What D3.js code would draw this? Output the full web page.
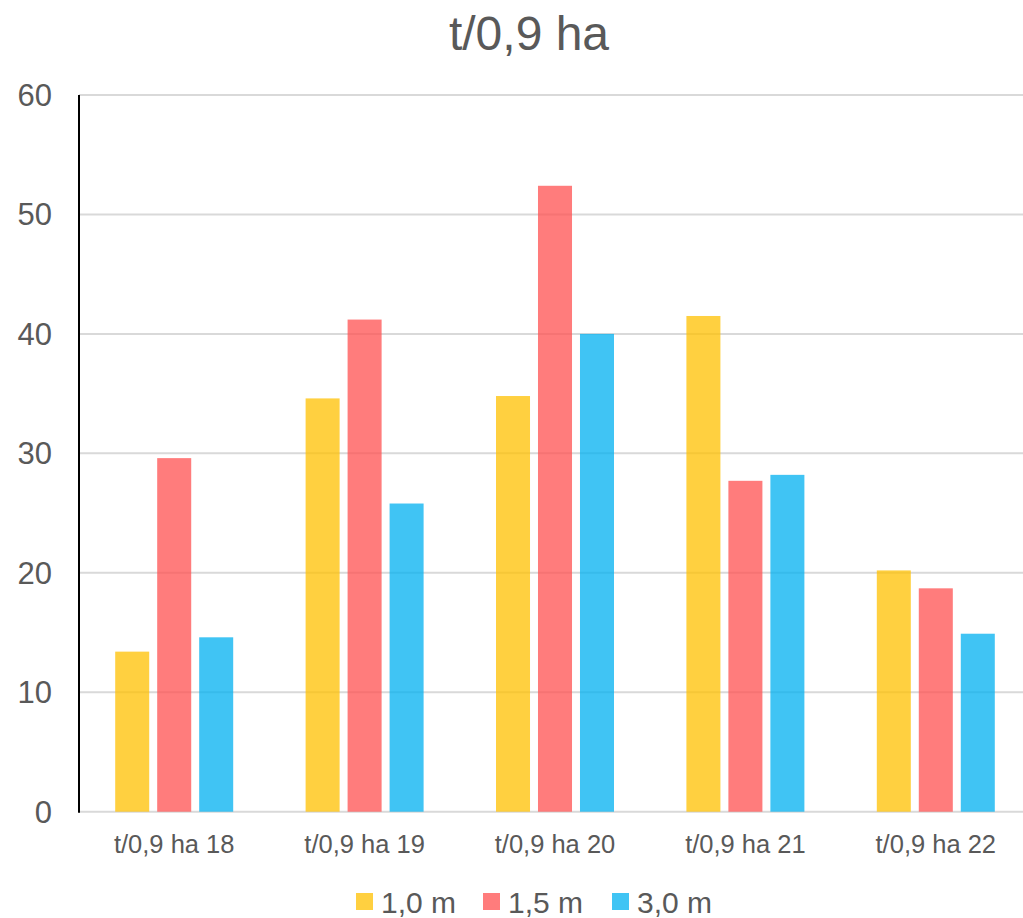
<!DOCTYPE html>
<html>
<head>
<meta charset="utf-8">
<script src="https://cdn.jsdelivr.net/npm/d3@7"></script>
<style>
  body { margin: 0; background: #fff; }
  svg { display: block; font-family: "Liberation Sans", Arial, sans-serif; }
</style>
</head>
<body>
<svg id="chart"></svg>
<script>
const width = 1023;
const height = 918;

const categories = ['t/0,9 ha 18', 't/0,9 ha 19', 't/0,9 ha 20', 't/0,9 ha 21', 't/0,9 ha 22'];
const seriesNames = ['1,0 m', '1,5 m', '3,0 m'];
const values10 = [13.4, 34.6, 34.8, 41.5, 20.2];
const values15 = [29.6, 41.2, 52.4, 27.7, 18.7];
const values30 = [14.6, 25.8, 40.0, 28.2, 14.9];
const yTicks = [0, 10, 20, 30, 40, 50, 60];

const colors = ['#FFC000', '#FF5050', '#00B0F0'];
const seriesValues = [values10, values15, values30];

const data = categories.map((c, i) => ({
    cat: c,
    vals: seriesNames.map((s, j) => ({ key: s, idx: j, value: seriesValues[j][i] }))
}));

const svg = d3.select('#chart')
    .attr('width', width)
    .attr('height', height);

const x0 = d3.scaleBand().domain(categories).range([79, 1031]);
const x1 = d3.scaleBand().domain(seriesNames).range([0, 118]).paddingInner(0.19);
const y = d3.scaleLinear().domain([0, 60]).range([811.7, 95]);

// title
svg.append('text')
    .attr('x', 529)
    .attr('y', 50)
    .attr('text-anchor', 'middle')
    .style('font-size', '48px')
    .style('fill', '#595959')
    .text('t/0,9 ha');

// gridlines
svg.append('g')
    .selectAll('line')
    .data(yTicks)
    .enter()
    .append('line')
    .attr('x1', 79)
    .attr('x2', width)
    .attr('y1', d => y(d))
    .attr('y2', d => y(d))
    .attr('stroke', '#d9d9d9')
    .attr('stroke-width', 2);

// y tick labels
svg.append('g')
    .selectAll('text')
    .data(yTicks)
    .enter()
    .append('text')
    .attr('x', 52)
    .attr('y', d => y(d))
    .attr('dy', '0.35em')
    .attr('text-anchor', 'end')
    .style('font-size', '31px')
    .style('fill', '#595959')
    .text(d => d);

// bars
const groups = svg.append('g')
    .selectAll('g')
    .data(data)
    .enter()
    .append('g')
    .attr('transform', d => `translate(${x0(d.cat) + (x0.bandwidth() - 118) / 2},0)`);

groups.selectAll('rect')
    .data(d => d.vals)
    .enter()
    .append('rect')
    .attr('x', d => x1(d.key))
    .attr('y', d => y(d.value))
    .attr('width', x1.bandwidth())
    .attr('height', d => y(0) - y(d.value))
    .attr('fill', d => colors[d.idx])
    .attr('fill-opacity', 0.75);

// y axis line
svg.append('line')
    .attr('x1', 79).attr('x2', 79)
    .attr('y1', y(60)).attr('y2', y(0) + 1)
    .attr('stroke', '#000')
    .attr('stroke-width', 2);

// category labels
svg.append('g')
    .selectAll('text')
    .data(categories)
    .enter()
    .append('text')
    .attr('x', d => x0(d) + x0.bandwidth() / 2)
    .attr('y', 853)
    .attr('text-anchor', 'middle')
    .style('font-size', '25.5px')
    .style('fill', '#595959')
    .text(d => d);

// legend
const legendX = [356, 483, 612];
const legend = svg.append('g')
    .selectAll('g')
    .data(seriesNames)
    .enter()
    .append('g')
    .attr('transform', (d, i) => `translate(${legendX[i]},893)`);

legend.append('rect')
    .attr('width', 17)
    .attr('height', 17)
    .attr('fill', (d, i) => colors[i])
    .attr('fill-opacity', 0.75);

legend.append('text')
    .attr('x', 25)
    .attr('y', 20)
    .style('font-size', '30px')
    .style('fill', '#595959')
    .text(d => d);
</script>
</body>
</html>
